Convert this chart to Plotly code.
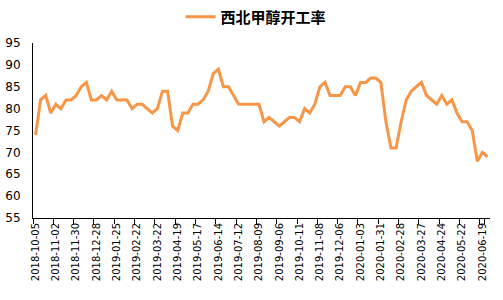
import plotly.graph_objects as go

dates = [
    "2018-10-05", "2018-10-12", "2018-10-19", "2018-10-26", "2018-11-02", "2018-11-09", "2018-11-16", "2018-11-23",
    "2018-11-30", "2018-12-07", "2018-12-14", "2018-12-21", "2018-12-28",
    "2019-01-04", "2019-01-11", "2019-01-18", "2019-01-25", "2019-02-01", "2019-02-08", "2019-02-15", "2019-02-22",
    "2019-03-01", "2019-03-08", "2019-03-15", "2019-03-22", "2019-03-29", "2019-04-05", "2019-04-12", "2019-04-19",
    "2019-04-26", "2019-05-03", "2019-05-10", "2019-05-17", "2019-05-24", "2019-05-31", "2019-06-07", "2019-06-14",
    "2019-06-21", "2019-06-28", "2019-07-05", "2019-07-12", "2019-07-19", "2019-07-26", "2019-08-02", "2019-08-09",
    "2019-08-16", "2019-08-23", "2019-08-30", "2019-09-06", "2019-09-13", "2019-09-20", "2019-09-27", "2019-10-11",
    "2019-10-18", "2019-10-25", "2019-11-01", "2019-11-08", "2019-11-15", "2019-11-22", "2019-11-29", "2019-12-06",
    "2019-12-13", "2019-12-20", "2019-12-27",
    "2020-01-03", "2020-01-10", "2020-01-17", "2020-01-24", "2020-01-31", "2020-02-07", "2020-02-14", "2020-02-21",
    "2020-02-28", "2020-03-06", "2020-03-13", "2020-03-20", "2020-03-27", "2020-04-03", "2020-04-10", "2020-04-17",
    "2020-04-24", "2020-05-01", "2020-05-08", "2020-05-15", "2020-05-22", "2020-05-29", "2020-06-05", "2020-06-12",
    "2020-06-19", "2020-06-26",
]

rates = [
    74, 82, 83, 79, 81, 80, 82, 82, 83, 85, 86, 82, 82, 83, 82, 84, 82, 82, 82, 80,
    81, 81, 80, 79, 80, 84, 84, 76, 75, 79, 79, 81, 81, 82, 84, 88, 89, 85, 85, 83,
    81, 81, 81, 81, 81, 77, 78, 77, 76, 77, 78, 78, 77, 80, 79, 81, 85, 86, 83, 83,
    83, 85, 85, 83, 86, 86, 87, 87, 86, 77, 71, 71, 77, 82, 84, 85, 86, 83, 82, 81,
    83, 81, 82, 79, 77, 77, 75, 68, 70, 69,
]

series_name = "西北甲醇开工率"
y_ticks = [55, 60, 65, 70, 75, 80, 85, 90, 95]
label_step = 4

fig = go.Figure()
fig.add_trace(go.Scatter(
    x=dates, y=rates, mode="lines", name="<b>" + series_name + "</b>",
    line=dict(color="#F79646", width=3),
))

tick_idx = list(range(0, len(dates), label_step))

fig.update_layout(
    width=503, height=300,
    margin=dict(l=33, r=13, t=43, b=82),
    paper_bgcolor="white", plot_bgcolor="white",
    showlegend=True,
    legend=dict(
        orientation="h", x=0.323, xanchor="left", yref="container", y=0.943, yanchor="middle",
        font=dict(family="Noto Sans CJK SC", size=15, color="#000000"),
        bgcolor="rgba(0,0,0,0)",
    ),
    xaxis=dict(
        type="category", range=[-0.5, len(dates) - 0.5], automargin=False,
        tickmode="array", tickvals=[dates[i] for i in tick_idx], ticktext=[dates[i] for i in tick_idx],
        tickson="boundaries", ticks="outside", ticklen=5, tickcolor="black",
        tickangle=-90, tickfont=dict(family="DejaVu Sans", size=10, color="black"),
        showline=True, linecolor="black", linewidth=1, showgrid=False, zeroline=False,
    ),
    yaxis=dict(
        range=[55, 95], tickmode="array", tickvals=y_ticks, automargin=False,
        tickfont=dict(family="DejaVu Sans", size=12, color="black"),
        showline=True, linecolor="black", linewidth=1, showgrid=False, zeroline=False,
        ticks="", ticklabelstandoff=9,
    ),
)

fig.write_html("out.html")
